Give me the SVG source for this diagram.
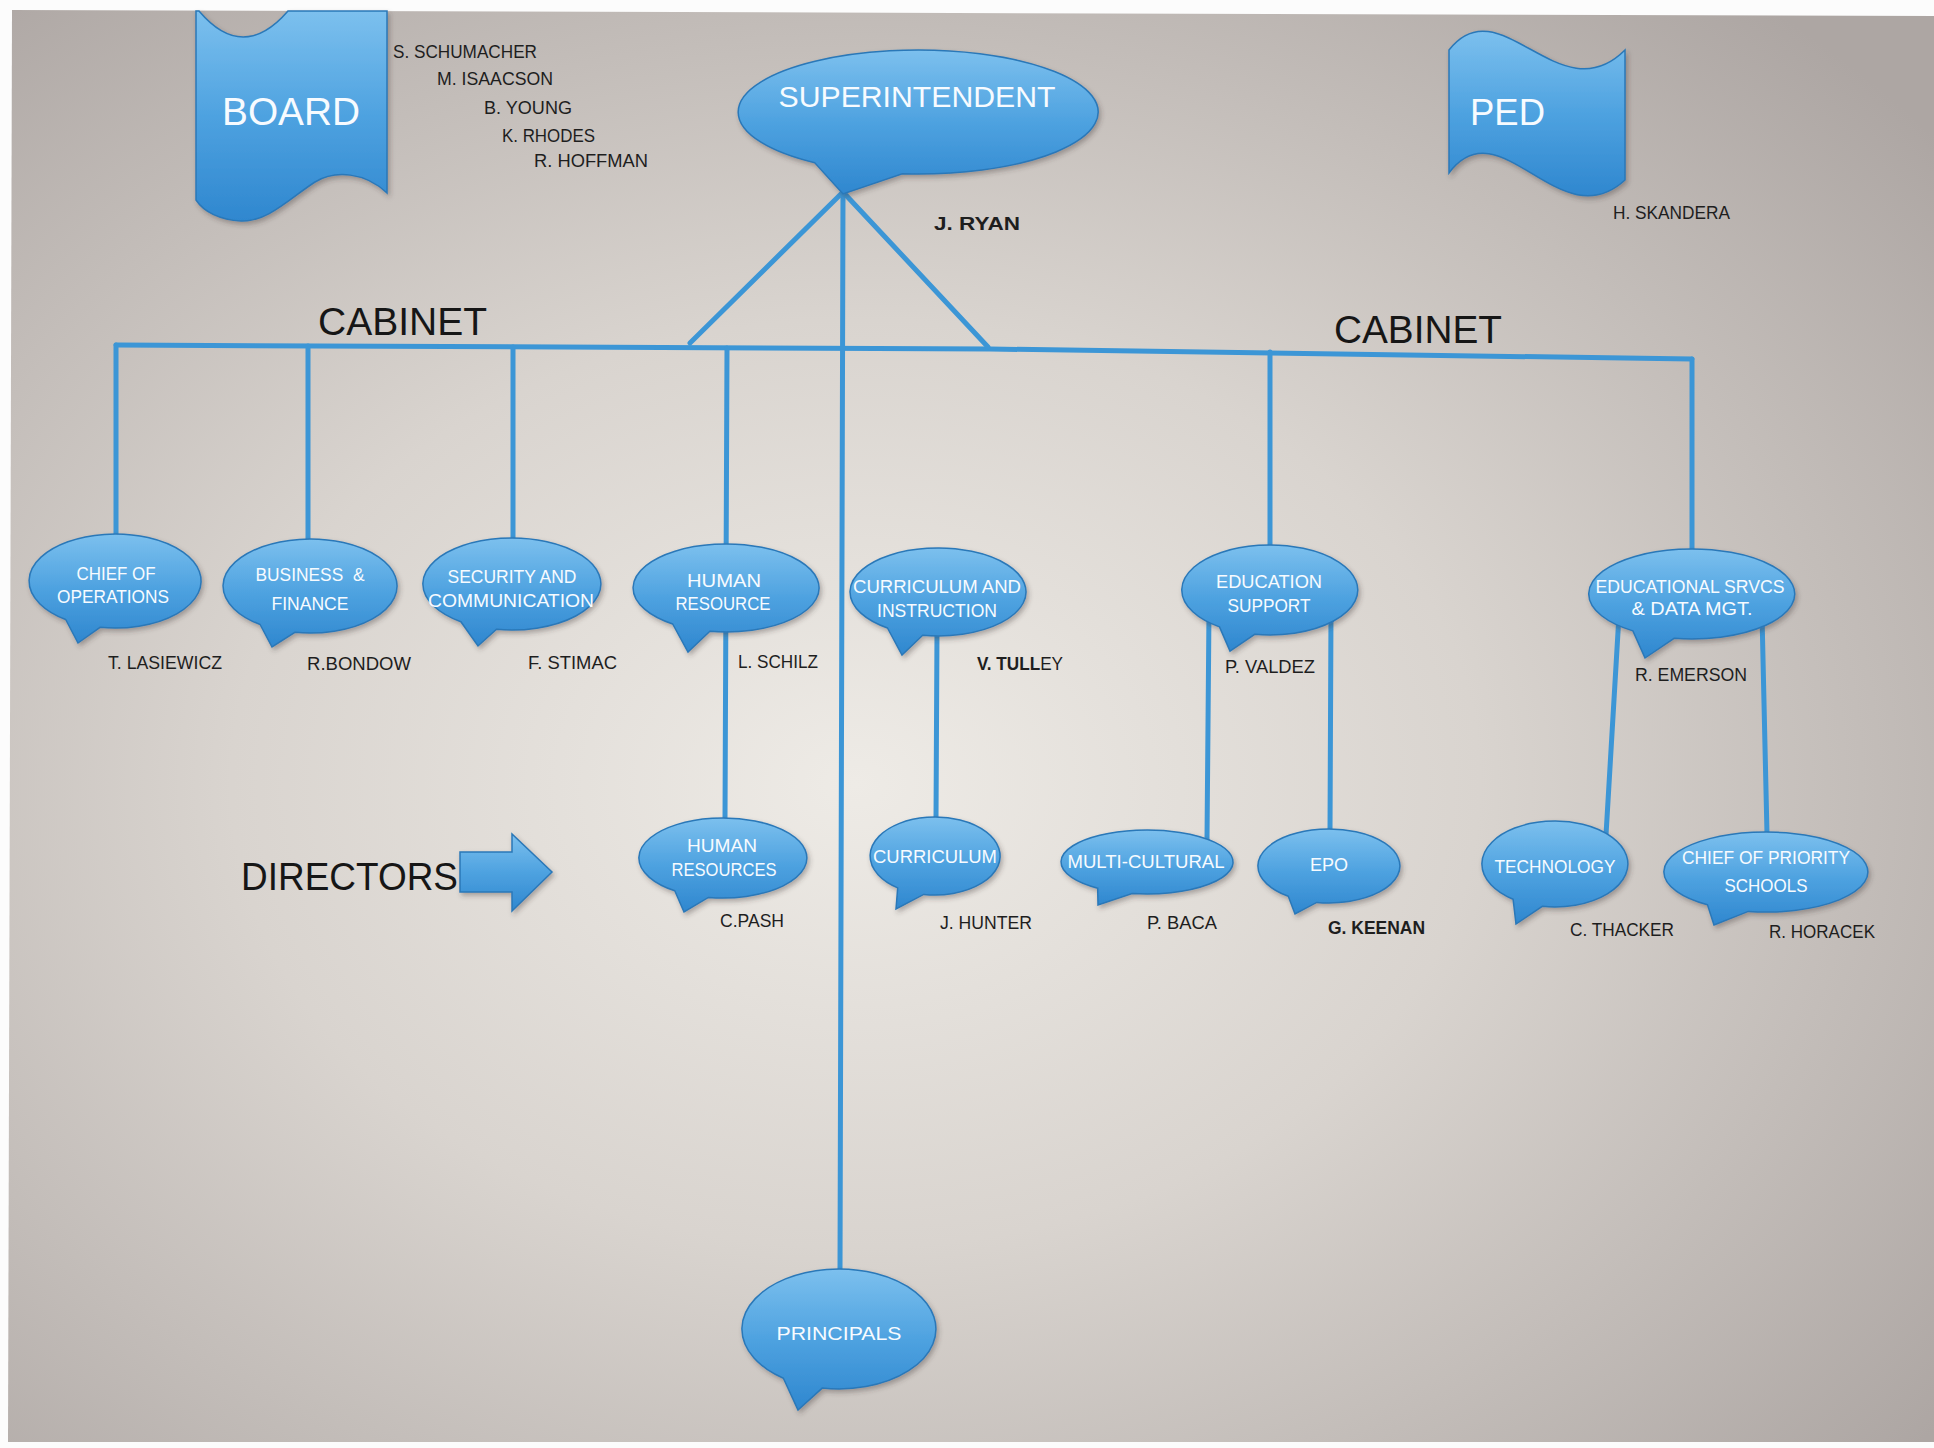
<svg xmlns="http://www.w3.org/2000/svg" width="1934" height="1448" viewBox="0 0 1934 1448">
<defs>
  <radialGradient id="bg" cx="0.44" cy="0.54" r="0.72">
    <stop offset="0" stop-color="#eeebe6"/>
    <stop offset="0.45" stop-color="#d9d4cf"/>
    <stop offset="1" stop-color="#ada6a3"/>
  </radialGradient>
  <linearGradient id="bub" x1="0" y1="0" x2="0" y2="1">
    <stop offset="0" stop-color="#7cc0ee"/>
    <stop offset="0.5" stop-color="#4ea2e0"/>
    <stop offset="1" stop-color="#2f87cf"/>
  </linearGradient>
  <filter id="sh" x="-10%" y="-10%" width="125%" height="130%">
    <feDropShadow dx="2" dy="3" stdDeviation="2.5" flood-color="#3a3030" flood-opacity="0.35"/>
  </filter>
  <style>
    .bubble { fill: url(#bub); stroke: #2a78b8; stroke-width: 1.5; filter: url(#sh); }
    .lbl { font-family: "Liberation Sans", Arial, sans-serif; font-size: 19px; fill: #f7fbff; text-anchor: middle; }
    .name { font-family: "Liberation Sans", Arial, sans-serif; font-size: 18px; fill: #1e1e1e; }
    .big { font-family: "Liberation Sans", Arial, sans-serif; font-size: 39px; fill: #161616; }
    .title { font-family: "Liberation Sans", Arial, sans-serif; fill: #f7fbff; }
    .conn { stroke: #3c96d6; stroke-width: 5; fill: none; stroke-linecap: round; stroke-linejoin: round; }
  </style>
</defs>

<rect width="1934" height="1448" fill="#fcfcfc"/>
<path d="M12,10 L1934,16 L1934,1442 L8,1442 Z" fill="url(#bg)"/>

<g id="connectors">
  <polyline class="conn" points="116,345 990,349 1692,359"/>
  <line class="conn" x1="843" y1="192" x2="690" y2="343"/>
  <line class="conn" x1="843" y1="192" x2="988" y2="347"/>
  <line class="conn" x1="843" y1="192" x2="840" y2="1270"/>
  <line class="conn" x1="116" y1="345" x2="116" y2="536"/>
  <line class="conn" x1="308" y1="346" x2="308" y2="541"/>
  <line class="conn" x1="513" y1="347" x2="513" y2="540"/>
  <line class="conn" x1="727" y1="348" x2="725" y2="820"/>
  <line class="conn" x1="1270" y1="352" x2="1270" y2="547"/>
  <line class="conn" x1="1692" y1="359" x2="1692" y2="551"/>
  <line class="conn" x1="937" y1="630" x2="936" y2="820"/>
  <line class="conn" x1="1209" y1="610" x2="1207" y2="840"/>
  <line class="conn" x1="1331" y1="610" x2="1330" y2="832"/>
  <line class="conn" x1="1619" y1="615" x2="1606" y2="835"/>
  <line class="conn" x1="1762" y1="615" x2="1767" y2="834"/>
</g>

<g id="board">
  <path class="bubble" d="M196,11 L199,11 Q243,63 288,11 L387,11 L387,193 C365,172 335,170 315,182 C290,198 268,222 241,221 C220,220 204,212 196,200 Z"/>
  <text class="title" x="222" y="125" font-size="38" textLength="138" lengthAdjust="spacingAndGlyphs">BOARD</text>
</g>
<g id="board-members">
  <text class="name" x="393" y="58" textLength="144" lengthAdjust="spacingAndGlyphs">S. SCHUMACHER</text>
  <text class="name" x="437" y="85" textLength="116" lengthAdjust="spacingAndGlyphs">M. ISAACSON</text>
  <text class="name" x="484" y="114" textLength="88" lengthAdjust="spacingAndGlyphs">B. YOUNG</text>
  <text class="name" x="502" y="142" textLength="93" lengthAdjust="spacingAndGlyphs">K. RHODES</text>
  <text class="name" x="534" y="167" textLength="114" lengthAdjust="spacingAndGlyphs">R. HOFFMAN</text>
</g>

<g id="superintendent">
  <path class="bubble" d="M902.3,173.8 A180,62 0 1 0 814.8,162.8 L843,194 Z"/>
  <text class="title" x="917" y="107" font-size="30" text-anchor="middle" textLength="277" lengthAdjust="spacingAndGlyphs">SUPERINTENDENT</text>
  <text class="name" x="934" y="230" font-size="24" font-weight="bold" textLength="86" lengthAdjust="spacingAndGlyphs">J. RYAN</text>
</g>

<g id="ped">
  <path class="bubble" d="M1449,50 C1500,-15 1560,115 1625,50 L1625,180 C1560,240 1500,105 1449,173 Z"/>
  <text class="title" x="1470" y="125" font-size="37" textLength="75" lengthAdjust="spacingAndGlyphs">PED</text>
  <text class="name" x="1613" y="219" textLength="117" lengthAdjust="spacingAndGlyphs">H. SKANDERA</text>
</g>

<g id="cabinet-labels">
  <text class="big" x="318" y="335" textLength="169" lengthAdjust="spacingAndGlyphs">CABINET</text>
  <text class="big" x="1334" y="343" textLength="168" lengthAdjust="spacingAndGlyphs">CABINET</text>
</g>

<g id="chief-of-operations">
  <path class="bubble" d="M100.1,627.3 A86,47 0 1 0 65.7,619.5 L78,643 Z"/>
  <text class="lbl" x="116" y="580" textLength="79" lengthAdjust="spacingAndGlyphs">CHIEF OF</text>
  <text class="lbl" x="113" y="603" textLength="112" lengthAdjust="spacingAndGlyphs">OPERATIONS</text>
  <text class="name" x="108" y="669" textLength="114" lengthAdjust="spacingAndGlyphs">T. LASIEWICZ</text>
</g>

<g id="business-finance">
  <path class="bubble" d="M294.9,632.3 A87,47 0 1 0 260.1,624.5 L272,647 Z"/>
  <text class="lbl" x="310" y="581" textLength="109" lengthAdjust="spacingAndGlyphs" xml:space="preserve">BUSINESS  &amp;</text>
  <text class="lbl" x="310" y="610" textLength="77" lengthAdjust="spacingAndGlyphs">FINANCE</text>
  <text class="name" x="307" y="670" textLength="104" lengthAdjust="spacingAndGlyphs">R.BONDOW</text>
</g>

<g id="security-communication">
  <path class="bubble" d="M496.5,629.3 A89,46 0 1 0 460.9,621.7 L478,646 Z"/>
  <text class="lbl" x="512" y="583" textLength="129" lengthAdjust="spacingAndGlyphs">SECURITY AND</text>
  <text class="lbl" x="511" y="607" textLength="166" lengthAdjust="spacingAndGlyphs">COMMUNICATION</text>
  <text class="name" x="528" y="669" textLength="89" lengthAdjust="spacingAndGlyphs">F. STIMAC</text>
</g>

<g id="human-resource">
  <path class="bubble" d="M709.9,631.3 A93,44 0 1 0 672.7,624 L688,652 Z"/>
  <text class="lbl" x="724" y="587" textLength="74" lengthAdjust="spacingAndGlyphs">HUMAN</text>
  <text class="lbl" x="723" y="610" textLength="95" lengthAdjust="spacingAndGlyphs">RESOURCE</text>
  <text class="name" x="738" y="668" textLength="80" lengthAdjust="spacingAndGlyphs">L. SCHILZ</text>
</g>

<g id="curriculum-instruction">
  <path class="bubble" d="M922.7,635.3 A88,44 0 1 0 887.5,628 L902,655 Z"/>
  <text class="lbl" x="937" y="593" textLength="168" lengthAdjust="spacingAndGlyphs">CURRICULUM AND</text>
  <text class="lbl" x="937" y="617" textLength="120" lengthAdjust="spacingAndGlyphs">INSTRUCTION</text>
  <text class="name" x="977" y="670" font-weight="bold" textLength="86" lengthAdjust="spacingAndGlyphs">V. TULL<tspan font-weight="normal">EY</tspan></text>
</g>

<g id="education-support">
  <path class="bubble" d="M1254.7,634.3 A88,45 0 1 0 1219.5,626.9 L1230,651 Z"/>
  <text class="lbl" x="1269" y="588" textLength="106" lengthAdjust="spacingAndGlyphs">EDUCATION</text>
  <text class="lbl" x="1269" y="612" textLength="83" lengthAdjust="spacingAndGlyphs">SUPPORT</text>
  <text class="name" x="1225" y="673" textLength="90" lengthAdjust="spacingAndGlyphs">P. VALDEZ</text>
</g>

<g id="educational-services">
  <path class="bubble" d="M1674.1,638.3 A103,45 0 1 0 1632.9,630.9 L1645,658 Z"/>
  <text class="lbl" x="1690" y="593" textLength="189" lengthAdjust="spacingAndGlyphs">EDUCATIONAL SRVCS</text>
  <text class="lbl" x="1692" y="615" textLength="121" lengthAdjust="spacingAndGlyphs">&amp; DATA MGT.</text>
  <text class="name" x="1635" y="681" textLength="112" lengthAdjust="spacingAndGlyphs">R. EMERSON</text>
</g>

<g id="directors-label">
  <text class="big" x="241" y="890" font-size="37" textLength="217" lengthAdjust="spacingAndGlyphs">DIRECTORS</text>
  <path class="bubble" d="M460,852 L512,852 L512,834 L552,872 L512,911 L512,892 L460,892 Z"/>
</g>

<g id="human-resources-director">
  <path class="bubble" d="M708.4,897.4 A84,40 0 1 0 674.8,890.8 L684,912 Z"/>
  <text class="lbl" x="722" y="852" textLength="70" lengthAdjust="spacingAndGlyphs">HUMAN</text>
  <text class="lbl" x="724" y="876" textLength="105" lengthAdjust="spacingAndGlyphs">RESOURCES</text>
  <text class="name" x="720" y="927" textLength="64" lengthAdjust="spacingAndGlyphs">C.PASH</text>
</g>

<g id="curriculum-director">
  <path class="bubble" d="M923.7,894.4 A65,39 0 1 0 897.7,887.9 L896,909 Z"/>
  <text class="lbl" x="935" y="863" textLength="124" lengthAdjust="spacingAndGlyphs">CURRICULUM</text>
  <text class="name" x="940" y="929" textLength="92" lengthAdjust="spacingAndGlyphs">J. HUNTER</text>
</g>

<g id="multi-cultural">
  <path class="bubble" d="M1132.1,893.5 A86,32 0 1 0 1097.7,888.2 L1098,905 Z"/>
  <text class="lbl" x="1146" y="868" textLength="157" lengthAdjust="spacingAndGlyphs">MULTI-CULTURAL</text>
  <text class="name" x="1147" y="929" textLength="70" lengthAdjust="spacingAndGlyphs">P. BACA</text>
</g>

<g id="epo">
  <path class="bubble" d="M1316.7,902.4 A71,37 0 1 0 1288.3,896.3 L1295,914 Z"/>
  <text class="lbl" x="1329" y="871" textLength="38" lengthAdjust="spacingAndGlyphs">EPO</text>
  <text class="name" x="1328" y="934" font-weight="bold" textLength="97" lengthAdjust="spacingAndGlyphs">G. KEENAN</text>
</g>

<g id="technology">
  <path class="bubble" d="M1542.3,906.3 A73,43 0 1 0 1513.1,899.2 L1516,924 Z"/>
  <text class="lbl" x="1555" y="873" textLength="121" lengthAdjust="spacingAndGlyphs">TECHNOLOGY</text>
  <text class="name" x="1570" y="936" textLength="104" lengthAdjust="spacingAndGlyphs">C. THACKER</text>
</g>

<g id="chief-priority-schools">
  <path class="bubble" d="M1748.3,911.4 A102,40 0 1 0 1707.5,904.8 L1714,925 Z"/>
  <text class="lbl" x="1766" y="864" textLength="168" lengthAdjust="spacingAndGlyphs">CHIEF OF PRIORITY</text>
  <text class="lbl" x="1766" y="892" textLength="83" lengthAdjust="spacingAndGlyphs">SCHOOLS</text>
  <text class="name" x="1769" y="938" textLength="106" lengthAdjust="spacingAndGlyphs">R. HORACEK</text>
</g>

<g id="principals">
  <path class="bubble" d="M822.2,1388.1 A97,60 0 1 0 783.4,1378.2 L798,1410 Z"/>
  <text class="lbl" x="839" y="1340" font-size="23" textLength="125" lengthAdjust="spacingAndGlyphs">PRINCIPALS</text>
</g>
</svg>
